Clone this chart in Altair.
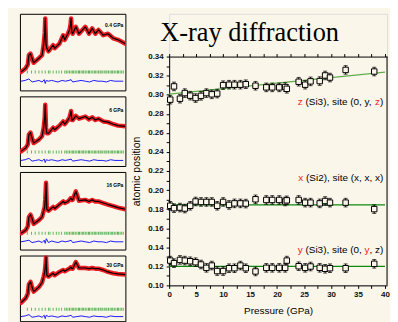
import altair as alt
import pandas as pd

BG = "#fbf6ea"
RED = "#ee1d23"
GREEN_Z = "#5fae4c"
GREEN_XY = "#0c8a0c"
FONT = "Liberation Sans"

# ---------------- right chart: atomic positions vs pressure ----------------
pressure = [0.2, 0.9, 2.0, 2.9, 3.9, 4.9, 5.9, 6.9, 7.9, 8.9, 10.0, 11.1, 12.1, 13.2, 14.2,
            16.0, 18.0, 19.1, 20.4, 21.5, 21.8, 24.0, 25.2, 26.2, 27.9, 28.9, 29.8, 32.7, 38.0]
z_si3 = [0.2948, 0.3087, 0.2958, 0.3017, 0.2990, 0.2965, 0.2988, 0.3017, 0.3004, 0.3012,
         0.3100, 0.3105, 0.3105, 0.3105, 0.3110, 0.3094, 0.3077, 0.3077, 0.3077, 0.3080,
         0.3062, 0.3136, 0.3105, 0.3140, 0.3143, 0.3202, 0.3180, 0.3260, 0.3243]
x_si2 = [0.1835, 0.1810, 0.1816, 0.1806, 0.1835, 0.1880, 0.1875, 0.1875, 0.1875, 0.1835,
         0.1875, 0.1844, 0.1860, 0.1860, 0.1858, 0.1903, 0.1896, 0.1896, 0.1896, 0.1880,
         0.1892, 0.1896, 0.1868, 0.1868, 0.1860, 0.1885, 0.1868, 0.1868, 0.1800]
y_si3 = [0.1260, 0.1233, 0.1267, 0.1260, 0.1253, 0.1243, 0.1219, 0.1184, 0.1208, 0.1150,
         0.1150, 0.1180, 0.1180, 0.1208, 0.1180, 0.1146, 0.1184, 0.1184, 0.1184, 0.1184,
         0.1260, 0.1201, 0.1184, 0.1198, 0.1184, 0.1174, 0.1180, 0.1180, 0.1226]
pos_error = 0.0045

fit_pressure = [0, 40]
z_fit = [0.3007, 0.3236]
x_fit = [0.1845, 0.1845]
y_fit = [0.1200, 0.1200]

x_tick_values = [0, 2.5, 5, 7.5, 10, 12.5, 15, 17.5, 20, 22.5, 25, 27.5, 30, 32.5, 35, 37.5, 40]
y_tick_values = [0.10, 0.11, 0.12, 0.13, 0.14, 0.15, 0.16, 0.17, 0.18, 0.19, 0.20, 0.21, 0.22,
                 0.23, 0.24, 0.25, 0.26, 0.27, 0.28, 0.29, 0.30, 0.31, 0.32, 0.33, 0.34]

# ---------------- left panels: diffraction patterns ----------------
two_theta = [3.2, 4.1, 4.5, 4.7, 5.0, 5.3, 5.6, 6.6, 7.2, 7.5, 7.7, 7.8, 7.95, 8.1, 8.4, 9.3,
             9.6, 10.5, 11.2, 11.5, 12.1, 12.4, 12.6, 12.7, 12.85, 13.0, 13.6, 14.2, 15.4,
             16.1, 16.7, 17.3, 17.9, 18.8, 19.7, 20.7, 21.6, 23.0]
int_04 = [24, 29, 34, 46, 48, 42, 36, 42, 46, 60, 75, 94, 60, 55, 51, 59, 55, 61, 72, 66,
          74, 79, 86, 94, 76, 74, 83, 74, 83, 74, 81, 74, 79, 72, 74, 68, 66, 61]
int_06 = [21, 26, 31, 45, 48, 40, 33, 38, 43, 55, 70, 88, 55, 47, 47, 55, 52, 58, 64, 60,
          66, 70, 75, 79, 66, 66, 72, 68, 71, 67, 70, 66, 68, 64, 63, 60, 58, 57]
int_16 = [21, 25, 30, 42, 45, 40, 33, 38, 42, 50, 55, 64, 86, 52, 50, 55, 53, 58, 62, 60,
          62, 64, 66, 66, 64, 64, 75, 63, 64, 62, 64, 62, 62, 60, 58, 56, 54, 52]
int_30 = [28, 35, 42, 56, 60, 52, 45, 52, 59, 68, 75, 82, 98, 70, 68, 73, 70, 75, 78, 76,
          79, 80, 82, 82, 80, 80, 90, 81, 81, 80, 81, 80, 80, 78, 75, 73, 72, 71]

reflections = [4.4, 5.2, 5.9, 6.6, 7.2, 7.8, 8.4, 8.7, 9.3, 9.9, 10.4, 10.9, 11.5, 11.8, 12.1,
               12.4, 12.7, 13.0, 13.2, 13.5, 13.8, 14.1, 14.3, 14.6, 14.9, 15.1, 15.4, 15.7,
               16.0, 16.2, 16.5, 16.8, 17.1, 17.3, 17.6, 17.9, 18.2, 18.4, 18.7, 19.0, 19.3,
               19.5, 19.8, 20.1, 20.4, 20.6, 20.9, 21.2, 21.5, 21.7, 22.0, 22.3, 22.6]

diff_theta = [3.2, 4.0, 4.7, 5.3, 6.0, 6.6, 7.2, 7.6, 7.8, 8.0, 8.4, 9.0, 9.6, 10.2, 11.0, 11.6,
              12.3, 12.7, 13.0, 13.8, 14.6, 15.4, 16.2, 17.0, 17.8, 18.6, 19.4, 20.2, 21.0,
              21.8, 22.6]
diff_04 = [12, 13, 15, 11, 12, 13, 11, 14, 9, 13, 12, 13, 12, 11, 13, 12, 13, 14, 11, 12, 13,
           12, 11, 13, 12, 12, 11, 13, 12, 12, 12]
diff_06 = [8, 9, 11, 7, 8, 9, 7, 10, 5, 9, 8, 9, 8, 7, 9, 8, 9, 10, 7, 8, 9, 8, 7, 9, 8, 8, 7,
           9, 8, 8, 8]
diff_16 = [10, 11, 12, 9, 10, 11, 9, 12, 8, 14, 9, 11, 10, 9, 11, 10, 11, 12, 9, 10, 11, 10, 9,
           11, 10, 10, 9, 11, 10, 10, 10]
diff_30 = [7, 8, 10, 6, 7, 8, 6, 9, 4, 9, 7, 8, 7, 6, 8, 7, 8, 9, 6, 7, 8, 7, 6, 8, 7, 7, 6,
           8, 7, 7, 7]

panel_labels = ["0.4 GPa", "6 GPa", "16 GPa", "30 GPa"]
tick_levels = [24, 20, 21, 18]
label_levels = [86, 81, 83, 86]
panel_heights = [77, 70, 78, 66]


def panel(obs, diff, label, tick_level, label_level, h):
    xs = alt.Scale(domain=[3, 23], nice=False, zero=False)
    ys = alt.Scale(domain=[0, 100], nice=False, zero=False)
    prof = pd.DataFrame({"t": two_theta, "I": obs})
    dd = pd.DataFrame({"t": diff_theta, "I": diff})
    refl = pd.DataFrame({"t": reflections})
    X = alt.X("t:Q", scale=xs, axis=None)
    Y = alt.Y("I:Q", scale=ys, axis=None)
    red = alt.Chart(prof).mark_line(color=RED, strokeWidth=4.5, strokeJoin="round",
                                    strokeCap="round", clip=True).encode(x=X, y=Y)
    black = alt.Chart(prof).mark_line(color="black", strokeWidth=1.2, strokeJoin="round",
                                      clip=True).encode(x=X, y=Y)
    green = alt.Chart(refl).mark_tick(color="#1f9a1f", orient="vertical", size=3,
                                      thickness=1, clip=True).encode(
        x=X, y=alt.YDatum(tick_level, scale=ys, axis=None))
    blue = alt.Chart(dd).mark_line(color="#1a1aff", strokeWidth=1, strokeJoin="round",
                                   clip=True).encode(x=X, y=Y)
    txt = alt.Chart(pd.DataFrame({"a": [0]})).mark_text(
        text=label, align="right", baseline="middle", font=FONT, fontSize=5,
        fontWeight="bold", color="black").encode(
        x=alt.XDatum(22.6, scale=xs, axis=None),
        y=alt.YDatum(label_level, scale=ys, axis=None))
    return alt.layer(red, black, green, blue, txt).properties(
        width=106, height=h,
        view=alt.ViewBackground(stroke="black", strokeWidth=1, fill=BG))


left = alt.vconcat(
    panel(int_04, diff_04, panel_labels[0], tick_levels[0], label_levels[0], panel_heights[0]),
    panel(int_06, diff_06, panel_labels[1], tick_levels[1], label_levels[1], panel_heights[1]),
    panel(int_16, diff_16, panel_labels[2], tick_levels[2], label_levels[2], panel_heights[2]),
    panel(int_30, diff_30, panel_labels[3], tick_levels[3], label_levels[3], panel_heights[3]),
    spacing=4)

# ---------------- build right chart ----------------
rows = []
for name, vals in (("z", z_si3), ("x", x_si2), ("y", y_si3)):
    for p, v in zip(pressure, vals):
        rows.append({"series": name, "P": p, "v": v, "lo": v - pos_error, "hi": v + pos_error})
pts = pd.DataFrame(rows)

fit_rows = []
for name, vals in (("z", z_fit), ("x", x_fit), ("y", y_fit)):
    for p, v in zip(fit_pressure, vals):
        fit_rows.append({"series": name, "P": p, "v": v})
fits = pd.DataFrame(fit_rows)

X_MAX = 40.37
xs = alt.Scale(domain=[0, X_MAX], nice=False, zero=False)
ys = alt.Scale(domain=[0.10, 0.34], range=[273, 43], nice=False, zero=False)

ax_bottom = alt.Axis(orient="bottom", values=x_tick_values,
                     labelExpr="datum.value % 5 == 0 ? datum.label : ''",
                     title="Pressure (GPa)", titleFont=FONT, titleFontSize=10,
                     titleFontWeight="normal", titleColor="black", titlePadding=7,
                     labelFont=FONT, labelFontSize=8, labelFontWeight="bold",
                     labelColor="#111", labelPadding=2, labelFlush=False,
                     labelOverlap=False, tickSize=3, tickColor="black",
                     domainColor="black", grid=False)
ax_left = alt.Axis(orient="left", values=y_tick_values, format=".2f",
                   labelExpr="round(datum.value * 100) % 2 == 0 ? datum.label : ''",
                   title="atomic position", titleFont=FONT, titleFontSize=10.5,
                   titleFontWeight="normal", titleColor="black", titlePadding=6,
                   labelFont=FONT, labelFontSize=8, labelFontWeight="bold",
                   labelColor="#111", labelPadding=3, labelFlush=False,
                   labelOverlap=False, tickSize=3, tickColor="black",
                   domainColor="black", grid=False)
ax_top = alt.Axis(orient="top", offset=-43, values=x_tick_values, labels=False,
                  title=None, tickSize=3, tickColor="black", domainColor="black",
                  grid=False)

dummy = pd.DataFrame({"a": [0]})

fit_layer = alt.Chart(fits).mark_line(strokeWidth=1.3, strokeJoin="round").encode(
    x=alt.X("P:Q", scale=xs, axis=ax_top),
    y=alt.Y("v:Q", scale=ys, axis=None),
    color=alt.Color("series:N", scale=alt.Scale(domain=["z", "x", "y"],
                                                range=[GREEN_Z, GREEN_XY, GREEN_XY]),
                    legend=None),
)
right_frame = alt.Chart(dummy).mark_rule(color="black", strokeWidth=1).encode(
    x=alt.XDatum(X_MAX, scale=xs, axis=None),
    y=alt.YDatum(0.10, scale=ys, axis=None),
    y2=alt.datum(0.34),
)
err_layer = alt.Chart(pts).mark_rule(color="black", strokeWidth=1).encode(
    x=alt.X("P:Q", scale=xs, axis=None),
    y=alt.Y("lo:Q", scale=ys, axis=None),
    y2="hi:Q",
)
cap_lo = alt.Chart(pts).mark_tick(color="black", orient="horizontal", size=4,
                                  thickness=1).encode(
    x=alt.X("P:Q", scale=xs, axis=None), y=alt.Y("lo:Q", scale=ys, axis=None))
cap_hi = alt.Chart(pts).mark_tick(color="black", orient="horizontal", size=4,
                                  thickness=1).encode(
    x=alt.X("P:Q", scale=xs, axis=None), y=alt.Y("hi:Q", scale=ys, axis=None))
sq_layer = alt.Chart(pts).mark_square(size=30, fill=BG, stroke="black", strokeWidth=1,
                                      opacity=1).encode(
    x=alt.X("P:Q", scale=xs, axis=ax_bottom),
    y=alt.Y("v:Q", scale=ys, axis=ax_left),
)

title_layer = alt.Chart(dummy).mark_text(
    text="X-ray diffraction", align="left", baseline="alphabetic",
    font="Liberation Serif", fontSize=26.5, color="black").encode(
    x=alt.XDatum(-1.66, scale=xs, axis=None), y=alt.YDatum(0.3562, scale=ys, axis=None))

# annotations with red highlighted letters (spaces are gaps, not drawn)
W = {" ": 278, "(": 333, ")": 333, ",": 278, "0": 556, "2": 556, "3": 556, "S": 667,
     "i": 222, "s": 500, "t": 278, "e": 556, "x": 500, "y": 500, "z": 500}


def tw(s, fs=10):
    return sum(W[c] for c in s) * fs / 1000.0


annotations = [
    (0.292, [("z", RED), (" ", None), ("(Si3), site (0, y,", "black"), (" ", None),
             ("z", RED), (")", "black")]),
    (0.2127, [("x", RED), (" ", None), ("(Si2), site (x, x, x)", "black")]),
    (0.1375, [("y", RED), (" ", None), ("(Si3), site (0,", "black"), (" ", None),
              ("y", RED), (", z)", "black")]),
]
ann_layers = []
for yv, pieces in annotations:
    total = sum(tw(t) for t, _ in pieces)
    cum = 0.0
    for text, col in pieces:
        if col is not None:
            ann_layers.append(
                alt.Chart(dummy).mark_text(text=text, align="left", baseline="middle",
                                           dx=cum - total, font=FONT, fontSize=10,
                                           color=col).encode(
                    x=alt.XDatum(39.7, scale=xs, axis=None),
                    y=alt.YDatum(yv, scale=ys, axis=None)))
        cum += tw(text)

right = alt.layer(fit_layer, right_frame, err_layer, cap_lo, cap_hi, sq_layer, title_layer,
                  *ann_layers).resolve_axis(
    x="independent", y="independent").properties(width=219, height=273)

chart = alt.hconcat(left, right, spacing=4).properties(
    padding={"left": 11, "top": 4, "right": 0, "bottom": 0},
    background=BG,
).configure_view(strokeWidth=0).configure(font=FONT)

chart.save("out.html", embed_options={"renderer": "svg", "actions": False})
